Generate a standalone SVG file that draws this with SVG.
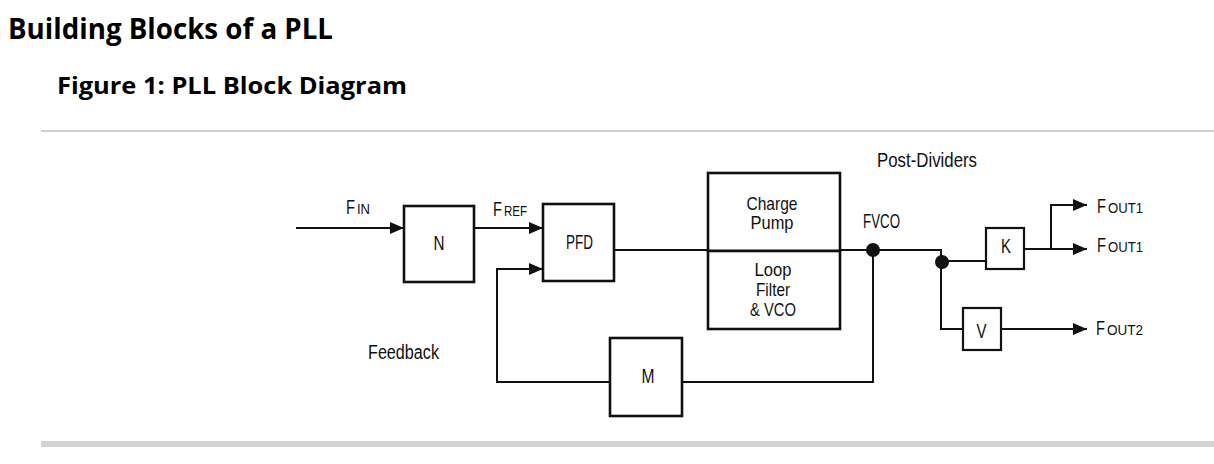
<svg xmlns="http://www.w3.org/2000/svg" width="1214" height="464" viewBox="0 0 1214 464">
<defs>
<style>
.t{font-family:"Liberation Sans Narrow","Liberation Sans",Arial,sans-serif;fill:#111;}
.h{font-family:"Open Sans","Liberation Sans",sans-serif;font-weight:bold;fill:#000;}
.lbl{font-size:19.5px;}
.ml{font-size:18.5px;}
.big{font-size:20px;}
.sm{font-size:15.5px;}
.box{fill:#fff;stroke:#111;stroke-width:2.6;}
.sbox{fill:#fff;stroke:#111;stroke-width:2.2;}
.ln{fill:none;stroke:#111;stroke-width:2;}
.dot{fill:#111;}
</style>
<marker id="arr" viewBox="0 0 14 12" refX="14" refY="6" markerWidth="14" markerHeight="12" markerUnits="userSpaceOnUse" orient="auto">
<path d="M0,0 L14,6 L0,12 Z" fill="#111"/>
</marker>
</defs>
<rect width="1214" height="464" fill="#fff"/>
<text class="h" x="8" y="39" font-size="28" textLength="325" lengthAdjust="spacingAndGlyphs">Building Blocks of a PLL</text>
<text class="h" x="57" y="94" font-size="24" textLength="350" lengthAdjust="spacingAndGlyphs">Figure 1: PLL Block Diagram</text>
<rect x="41" y="130" width="1173" height="2" fill="#d0d0d0"/>
<rect x="41" y="441" width="1173" height="6" fill="#d3d3d5"/>

<g id="connectors">
<path class="ln" d="M296,228 H404" marker-end="url(#arr)"/>
<path class="ln" d="M474,228 H543" marker-end="url(#arr)"/>
<path class="ln" d="M614,250 H708"/>
<path class="ln" d="M840,250 H941 V329 H963"/>
<path class="ln" d="M942,261 H986"/>
<path class="ln" d="M1024,249 H1087" marker-end="url(#arr)"/>
<path class="ln" d="M1051,249 V205 H1087" marker-end="url(#arr)"/>
<path class="ln" d="M1001,329 H1087" marker-end="url(#arr)"/>
<path class="ln" d="M873,250 V382 H682"/>
<path class="ln" d="M610,382 H497 V269 H543" marker-end="url(#arr)"/>
<circle class="dot" cx="873" cy="250" r="7"/>
<circle class="dot" cx="942" cy="262" r="7"/>
</g>

<g id="label-fin">
<text class="t big" x="346" y="214" textLength="9" lengthAdjust="spacingAndGlyphs">F</text>
<text class="t sm" x="357" y="214" textLength="13" lengthAdjust="spacingAndGlyphs">IN</text>
</g>
<g id="label-fref">
<text class="t big" x="493" y="216" textLength="9" lengthAdjust="spacingAndGlyphs">F</text>
<text class="t sm" x="504" y="216" textLength="23" lengthAdjust="spacingAndGlyphs">REF</text>
</g>
<g id="label-fvco"><text class="t lbl" x="863" y="228" textLength="37" lengthAdjust="spacingAndGlyphs">FVCO</text></g>
<g id="label-post"><text class="t lbl" x="877" y="167" textLength="100" lengthAdjust="spacingAndGlyphs">Post-Dividers</text></g>
<g id="label-feedback"><text class="t lbl" x="368" y="359" textLength="71" lengthAdjust="spacingAndGlyphs">Feedback</text></g>
<g id="label-fout1a">
<text class="t big" x="1097" y="213" textLength="9" lengthAdjust="spacingAndGlyphs">F</text>
<text class="t sm" x="1108" y="213" textLength="35" lengthAdjust="spacingAndGlyphs">OUT1</text>
</g>
<g id="label-fout1b">
<text class="t big" x="1097" y="252" textLength="9" lengthAdjust="spacingAndGlyphs">F</text>
<text class="t sm" x="1108" y="252" textLength="35" lengthAdjust="spacingAndGlyphs">OUT1</text>
</g>
<g id="label-fout2">
<text class="t big" x="1096" y="335" textLength="9" lengthAdjust="spacingAndGlyphs">F</text>
<text class="t sm" x="1107" y="335" textLength="36" lengthAdjust="spacingAndGlyphs">OUT2</text>
</g>

<g id="node-n">
<rect class="box" x="404" y="206" width="70" height="76"/>
<text class="t lbl" x="439" y="250" text-anchor="middle" textLength="11" lengthAdjust="spacingAndGlyphs">N</text>
</g>
<g id="node-pfd">
<rect class="box" x="543" y="204" width="71" height="77"/>
<text class="t lbl" x="579.5" y="249" text-anchor="middle" textLength="27" lengthAdjust="spacingAndGlyphs">PFD</text>
</g>
<g id="node-cp">
<rect class="box" x="708" y="173" width="132" height="78" stroke-width="3"/>
<text class="t ml" x="772" y="210" text-anchor="middle" textLength="51" lengthAdjust="spacingAndGlyphs">Charge</text>
<text class="t ml" x="772" y="229" text-anchor="middle" textLength="43" lengthAdjust="spacingAndGlyphs">Pump</text>
</g>
<g id="node-lf">
<rect class="box" x="708" y="251" width="132" height="78" stroke-width="3"/>
<text class="t ml" x="773" y="276" text-anchor="middle" textLength="37" lengthAdjust="spacingAndGlyphs">Loop</text>
<text class="t ml" x="773" y="296" text-anchor="middle" textLength="34" lengthAdjust="spacingAndGlyphs">Filter</text>
<text class="t ml" x="773" y="316" text-anchor="middle" textLength="46" lengthAdjust="spacingAndGlyphs">&amp; VCO</text>
</g>
<g id="node-k">
<rect class="sbox" x="986" y="228" width="38" height="41"/>
<text class="t lbl" x="1006" y="253" text-anchor="middle" textLength="10" lengthAdjust="spacingAndGlyphs">K</text>
</g>
<g id="node-v">
<rect class="sbox" x="963" y="308" width="38" height="42"/>
<text class="t lbl" x="981.5" y="338" text-anchor="middle" textLength="10" lengthAdjust="spacingAndGlyphs">V</text>
</g>
<g id="node-m">
<rect class="box" x="610" y="338" width="72" height="78"/>
<text class="t lbl" x="648" y="383" text-anchor="middle" textLength="13" lengthAdjust="spacingAndGlyphs">M</text>
</g>
</svg>
